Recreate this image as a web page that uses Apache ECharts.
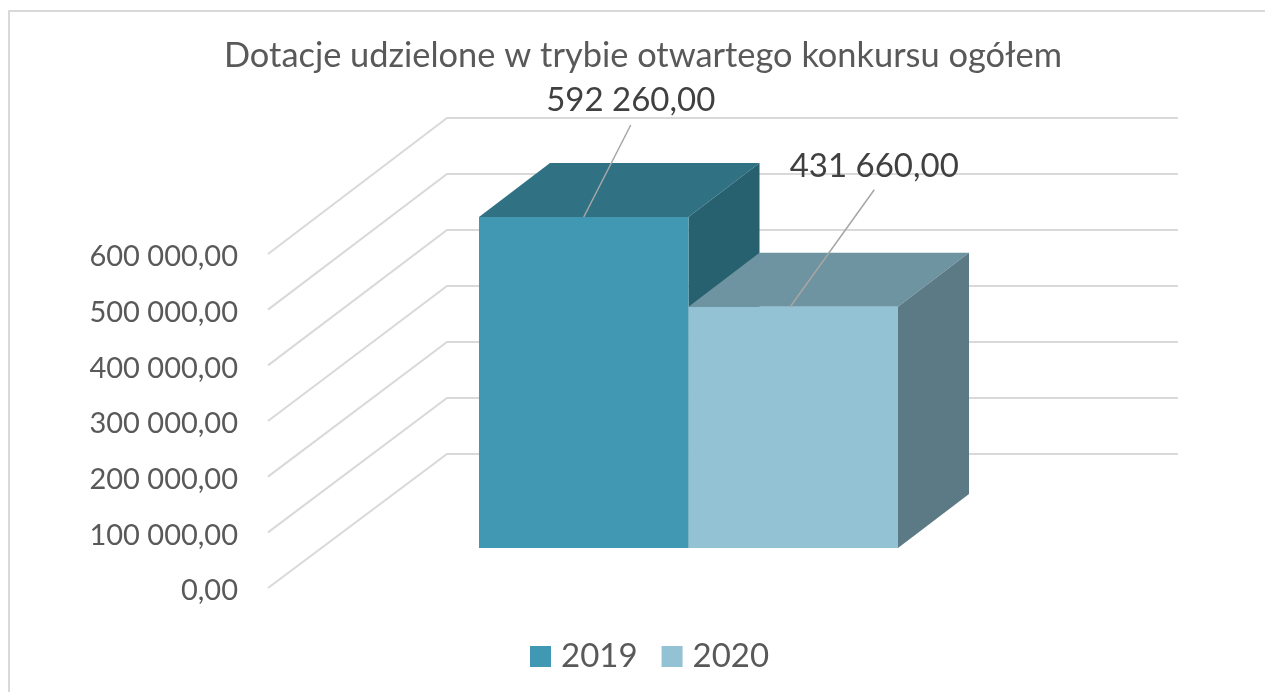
<!DOCTYPE html>
<html><head><meta charset="utf-8">
<style>html,body{margin:0;padding:0;background:#fff}#c{width:1265px;height:692px}</style>
<script src="https://cdn.jsdelivr.net/npm/echarts@6/dist/echarts.min.js"></script>
</head><body><div id="c"></div>
<script>
const titleText = 'Dotacje udzielone w trybie otwartego konkursu ogółem';
const category = ['Ogółem'];
const years = ['2019', '2020'];
const values2019 = [592260];
const values2020 = [431660];
const tickValues = [0, 100000, 200000, 300000, 400000, 500000, 600000];

const FONT = 'Lato, "Open Sans", sans-serif';
const floor = {dx: 179, dy: -134};
const wallScale = 336 / 334, barScale = 1.004;
const barOffset = {dx: 55, dy: -40}, barDepth = {dx: 71, dy: -54}, barShare = 0.2866;
const fmt = v => v.toLocaleString('en-US', {minimumFractionDigits: 2, maximumFractionDigits: 2}).replace(/,/g, ' ').replace('.', ',');

function wallItem(params, api) {
  const v = api.value(0);
  const cs = params.coordSys;
  const y = api.coord([0, v])[1];
  const y0 = api.coord([0, 0])[1];
  const by = y0 + floor.dy + (y - y0) * wallScale;
  const x0 = cs.x, x1 = cs.x + cs.width;
  return {
    type: 'polyline', silent: true,
    shape: {points: [[x0, y], [x0 + floor.dx, by], [x1 + floor.dx, by]]},
    style: {fill: 'none', stroke: '#d9d9d9', lineWidth: 2}
  };
}

function barItem(colors, side, leader, labelGap) {
  return function (params, api) {
    const p = api.coord([api.value(0), api.value(1)]);
    const base = api.coord([api.value(0), 0]);
    const w = api.size([1, 0])[0] * barShare;
    const dx = barDepth.dx, dy = barDepth.dy;
    const l = p[0] + (side - 1) * w + barOffset.dx, r = l + w;
    const b = base[1] + barOffset.dy;
    const t = b - (base[1] - p[1]) * barScale;
    const mid = (l + r) / 2;
    const poly = (pts, fill) => ({type: 'polygon', shape: {points: pts}, style: {fill: fill, stroke: null}});
    return {
      type: 'group',
      children: [
        poly([[l, t], [r, t], [r + dx, t + dy], [l + dx, t + dy]], colors.top),
        poly([[r, t], [r + dx, t + dy], [r + dx, b + dy], [r, b]], colors.side),
        {type: 'rect', shape: {x: l, y: t, width: w, height: b - t}, style: {fill: colors.front}},
        {type: 'line', z2: 5, shape: {x1: mid + leader[2], y1: t, x2: mid + leader[0], y2: t + leader[1]},
          style: {stroke: '#a6a6a6', lineWidth: 1.5}},
        {type: 'text', z2: 6, x: mid + leader[0], y: t + leader[1] - labelGap,
          style: {text: fmt(api.value(1)), fill: '#404040', font: '33px ' + FONT, align: 'center', verticalAlign: 'middle'}}
      ]
    };
  };
}

const chart = echarts.init(document.getElementById('c'), null, {renderer: 'canvas'});
chart.setOption({
  animation: false,
  backgroundColor: '#fff',
  title: {text: titleText, left: 638, top: 34, textAlign: 'center',
    textStyle: {fontFamily: FONT, fontWeight: 'normal', fontSize: 34.4, color: '#595959'}},
  graphic: [{type: 'rect', silent: true, shape: {x: 9, y: 11, width: 1300, height: 720},
    style: {fill: 'none', stroke: '#d9d9d9', lineWidth: 2}}],
  legend: {data: years, left: 530, top: 640, padding: 0, itemWidth: 21, itemHeight: 21, itemGap: 24,
    icon: 'rect', textStyle: {fontFamily: FONT, fontSize: 33, color: '#595959', padding: [0, 0, 0, 5]}},
  grid: {left: 268, top: 254, width: 731, height: 334},
  xAxis: {type: 'category', data: category, show: false},
  yAxis: {type: 'value', min: 0, max: 600000, interval: 100000,
    axisLine: {show: false}, axisTick: {show: false}, splitLine: {show: false},
    axisLabel: {margin: 30, formatter: v => '{a|' + fmt(v) + '}',
      rich: {a: {fontFamily: FONT, fontSize: 29, color: '#595959', padding: [6, 0, 0, 0]}}}},
  series: [
    {type: 'custom', name: 'walls', silent: true, clip: false, z: 1,
      data: tickValues.map(v => [v]), encode: {y: 0}, renderItem: wallItem},
    {type: 'custom', name: years[0], clip: false, z: 2, itemStyle: {color: '#4198B2'},
      data: values2019.map((v, i) => [i, v]), encode: {x: 0, y: 1},
      renderItem: barItem({front: '#4198B2', top: '#307284', side: '#27616F'}, 0, [47, -92, 0], 25)},
    {type: 'custom', name: years[1], clip: false, z: 3, itemStyle: {color: '#93C2D5'},
      data: values2020.map((v, i) => [i, v]), encode: {x: 0, y: 1},
      renderItem: barItem({front: '#93C2D5', top: '#6E93A1', side: '#5C7A85'}, 1, [81, -117, -3], 23)}
  ]
});
</script></body></html>
